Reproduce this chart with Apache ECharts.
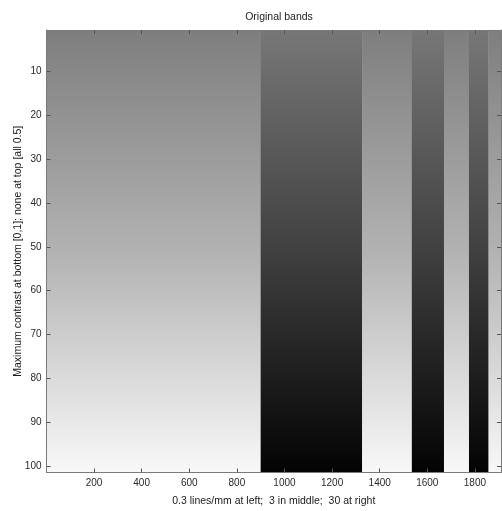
<!DOCTYPE html>
<html>
<head>
<meta charset="utf-8">
<script src="https://cdn.jsdelivr.net/npm/echarts@6/dist/echarts.min.js"></script>
<style>html,body{margin:0;padding:0;background:#fff}#c{width:502px;height:511px}</style>
</head>
<body>
<div id="c"></div>
<script>
// Band edges along x (image columns) and polarity of each band
var bandStart = [0.5, 900, 1326, 1535, 1670, 1775, 1857];
var bandEnd   = [900, 1326, 1535, 1670, 1775, 1857, 1909.5];
var bandPhase = ['bright', 'dark', 'bright', 'dark', 'bright', 'dark', 'bright'];
// Row range (1..101 rows, image limits)
var rowMin = 0.5, rowMax = 101.5;
var xMin = 0.5, xMax = 1909.5;
var xTicks = [200, 400, 600, 800, 1000, 1200, 1400, 1600, 1800];
var yTicks = [10, 20, 30, 40, 50, 60, 70, 80, 90, 100];

var data = bandStart.map(function (s, i) {
  return [s, bandEnd[i], rowMin, rowMax, bandPhase[i] === 'bright' ? 1 : 0];
});

var gradBright = [{offset: 0, color: '#7e7e7e'}, {offset: 0.5, color: '#b2b2b2'}, {offset: 1, color: '#f8f8f8'}];
var gradDark = [{offset: 0, color: '#777777'}, {offset: 0.5, color: '#404040'}, {offset: 1, color: '#030303'}];

var chart = echarts.init(document.getElementById('c'), null, {renderer: 'canvas'});
var font = 'Liberation Sans, Arial, sans-serif';
var plain = function (v) { return String(v); };
var axisCommon = {
  z: 10,
  axisLine: {show: true, lineStyle: {color: '#7a7a7a', width: 1}},
  axisTick: {show: true, inside: true, length: 4, lineStyle: {color: '#555'}},
  splitLine: {show: false}
};
chart.setOption({
  animation: false,
  title: {
    text: 'Original bands', left: 274, top: 7, textAlign: 'center',
    textStyle: {fontFamily: font, fontSize: 10.5, fontWeight: 'normal', color: '#222'}
  },
  grid: {left: 46.5, right: 1, top: 30, bottom: 38.5, containLabel: false, outerBoundsMode: 'none'},
  xAxis: [
    Object.assign({}, axisCommon, {
      type: 'value', position: 'bottom', min: xMin, max: xMax,
      axisTick: Object.assign({}, axisCommon.axisTick, {customValues: xTicks}),
      axisLabel: {customValues: xTicks, formatter: plain, margin: 6, fontFamily: font, fontSize: 10, color: '#2a2a2a'},
      name: '0.3 lines/mm at left;  3 in middle;  30 at right',
      nameLocation: 'middle', nameGap: 23, nameMoveOverlap: false,
      nameTextStyle: {fontFamily: font, fontSize: 10.5, color: '#1a1a1a'}
    }),
    Object.assign({}, axisCommon, {
      type: 'value', position: 'top', min: xMin, max: xMax,
      axisTick: Object.assign({}, axisCommon.axisTick, {customValues: xTicks}),
      axisLabel: {show: false}
    })
  ],
  yAxis: [
    Object.assign({}, axisCommon, {
      type: 'value', position: 'left', inverse: true, min: rowMin, max: rowMax,
      axisTick: Object.assign({}, axisCommon.axisTick, {customValues: yTicks}),
      axisLabel: {customValues: yTicks, formatter: plain, margin: 5, fontFamily: font, fontSize: 10, color: '#2a2a2a'},
      name: 'Maximum contrast at bottom [0,1]; none at top [all 0.5]',
      nameLocation: 'middle', nameGap: 23, nameRotate: 90, nameMoveOverlap: false,
      nameTextStyle: {fontFamily: font, fontSize: 10.5, color: '#1a1a1a'}
    }),
    Object.assign({}, axisCommon, {
      type: 'value', position: 'right', inverse: true, min: rowMin, max: rowMax,
      axisTick: Object.assign({}, axisCommon.axisTick, {customValues: yTicks}),
      axisLabel: {show: false}
    })
  ],
  series: [{
    type: 'custom',
    xAxisIndex: 0, yAxisIndex: 0,
    z: 1,
    clip: true,
    encode: {x: [0, 1], y: [2, 3]},
    data: data,
    renderItem: function (params, api) {
      var p0 = api.coord([api.value(0), api.value(2)]);
      var p1 = api.coord([api.value(1), api.value(3)]);
      var bright = api.value(4) === 1;
      return {
        type: 'rect',
        shape: {
          x: Math.min(p0[0], p1[0]), y: Math.min(p0[1], p1[1]),
          width: Math.abs(p1[0] - p0[0]) + 0.3, height: Math.abs(p1[1] - p0[1])
        },
        style: {
          fill: new echarts.graphic.LinearGradient(0, 0, 0, 1, bright ? gradBright : gradDark),
          stroke: null
        }
      };
    }
  }]
});
</script>
</body>
</html>
